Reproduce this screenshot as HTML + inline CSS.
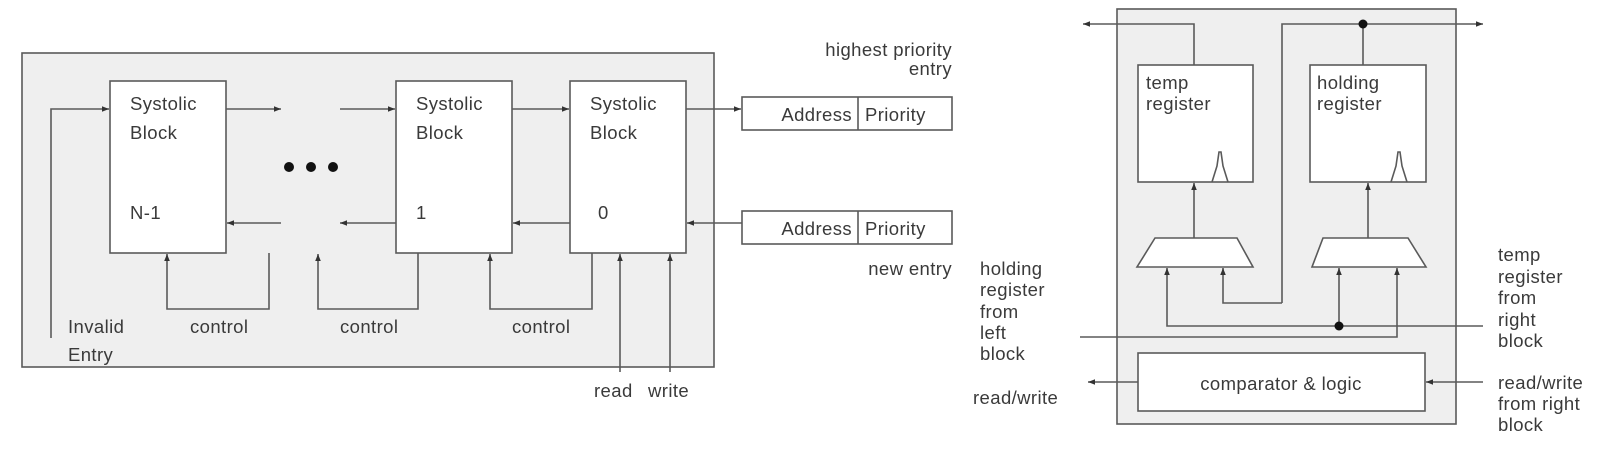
<!DOCTYPE html>
<html><head><meta charset="utf-8"><style>
html,body{margin:0;padding:0;background:#fff;}
svg{display:block;}
text{font-family:"Liberation Sans",sans-serif;font-size:18.5px;letter-spacing:0.4px;fill:#3a3a3a;}
</style></head><body>
<svg width="1606" height="452" viewBox="0 0 1606 452" xmlns="http://www.w3.org/2000/svg">
<defs>
<marker id="a" viewBox="0 0 10 10" refX="10" refY="5" markerWidth="9" markerHeight="7" orient="auto" markerUnits="userSpaceOnUse"><path d="M0,1 L10,5 L0,9 z" fill="#333"/></marker>
</defs>
<g stroke="#5a5a5a" stroke-width="1.6" fill="none">
<rect x="22" y="53" width="692" height="314" fill="#efefef"/>
<rect x="110" y="81" width="116" height="172" fill="#fff"/>
<rect x="396" y="81" width="116" height="172" fill="#fff"/>
<rect x="570" y="81" width="116" height="172" fill="#fff"/>
<rect x="742" y="97" width="210" height="33" fill="#fff"/>
<line x1="858" y1="97" x2="858" y2="130"/>
<rect x="742" y="211" width="210" height="33" fill="#fff"/>
<line x1="858" y1="211" x2="858" y2="244"/>
<polyline points="51,338 51,109 109,109" marker-end="url(#a)"/>
<line x1="226" y1="109" x2="281" y2="109" marker-end="url(#a)"/>
<line x1="340" y1="109" x2="395" y2="109" marker-end="url(#a)"/>
<line x1="512" y1="109" x2="569" y2="109" marker-end="url(#a)"/>
<line x1="686" y1="109" x2="741" y2="109" marker-end="url(#a)"/>
<line x1="742" y1="223" x2="687" y2="223" marker-end="url(#a)"/>
<line x1="570" y1="223" x2="513" y2="223" marker-end="url(#a)"/>
<line x1="396" y1="223" x2="340" y2="223" marker-end="url(#a)"/>
<line x1="281" y1="223" x2="227" y2="223" marker-end="url(#a)"/>
<polyline points="269,253 269,309 167,309 167,254" marker-end="url(#a)"/>
<polyline points="418,253 418,309 318,309 318,254" marker-end="url(#a)"/>
<polyline points="592,253 592,309 490,309 490,254" marker-end="url(#a)"/>
<line x1="620" y1="372" x2="620" y2="254" marker-end="url(#a)"/>
<line x1="670" y1="372" x2="670" y2="254" marker-end="url(#a)"/>
<rect x="1117" y="9" width="339" height="415" fill="#efefef"/>
<rect x="1138" y="65" width="115" height="117" fill="#fff"/>
<rect x="1310" y="65" width="116" height="117" fill="#fff"/>
<polyline points="1212,182 1217,166 1219,152 1221,152 1223,166 1228,182"/>
<polyline points="1391,182 1396,166 1398,152 1400,152 1402,166 1407,182"/>
<polyline points="1194,65 1194,24 1083,24" marker-end="url(#a)"/>
<polyline points="1282,303 1282,24 1483,24" marker-end="url(#a)"/>
<line x1="1363" y1="24" x2="1363" y2="65"/>
<polygon points="1155,238 1237,238 1253,267 1137,267" fill="#fff"/>
<polygon points="1323,238 1408,238 1426,267 1312,267" fill="#fff"/>
<line x1="1194" y1="238" x2="1194" y2="183" marker-end="url(#a)"/>
<line x1="1368" y1="238" x2="1368" y2="183" marker-end="url(#a)"/>
<polyline points="1282,303 1223,303 1223,268" marker-end="url(#a)"/>
<polyline points="1483,326 1167,326 1167,268" marker-end="url(#a)"/>
<line x1="1339" y1="326" x2="1339" y2="268" marker-end="url(#a)"/>
<polyline points="1080,337 1397,337 1397,268" marker-end="url(#a)"/>
<rect x="1138" y="353" width="287" height="58" fill="#fff"/>
<line x1="1138" y1="382" x2="1088" y2="382" marker-end="url(#a)"/>
<line x1="1483" y1="382" x2="1426" y2="382" marker-end="url(#a)"/>
</g>
<g fill="#111">
<circle cx="289" cy="167" r="5"/><circle cx="311" cy="167" r="5"/><circle cx="333" cy="167" r="5"/>
<circle cx="1363" cy="24" r="4.5"/><circle cx="1339" cy="326" r="4.5"/>
</g>
<text x="130" y="110">Systolic</text><text x="130" y="139">Block</text><text x="130" y="219">N-1</text>
<text x="416" y="110">Systolic</text><text x="416" y="139">Block</text><text x="416" y="219">1</text>
<text x="590" y="110">Systolic</text><text x="590" y="139">Block</text><text x="598" y="219">0</text>
<text x="852" y="121" text-anchor="end">Address</text><text x="865" y="121">Priority</text>
<text x="852" y="235" text-anchor="end">Address</text><text x="865" y="235">Priority</text>
<text x="952" y="56" text-anchor="end">highest priority</text>
<text x="952" y="75" text-anchor="end">entry</text>
<text x="952" y="275" text-anchor="end">new entry</text>
<text x="68" y="333">Invalid</text><text x="68" y="361">Entry</text>
<text x="190" y="333">control</text><text x="340" y="333">control</text><text x="512" y="333">control</text>
<text x="594" y="397">read</text><text x="648" y="397">write</text>
<text x="1146" y="89">temp</text><text x="1146" y="110">register</text>
<text x="1317" y="89">holding</text><text x="1317" y="110">register</text>
<text x="1281" y="390" text-anchor="middle">comparator &amp; logic</text>
<text x="980" y="275">holding</text><text x="980" y="296">register</text><text x="980" y="318">from</text><text x="980" y="339">left</text><text x="980" y="360">block</text>
<text x="973" y="404">read/write</text>
<text x="1498" y="261">temp</text><text x="1498" y="283">register</text><text x="1498" y="304">from</text><text x="1498" y="326">right</text><text x="1498" y="347">block</text>
<text x="1498" y="389">read/write</text><text x="1498" y="410">from right</text><text x="1498" y="431">block</text>
</svg>
</body></html>
